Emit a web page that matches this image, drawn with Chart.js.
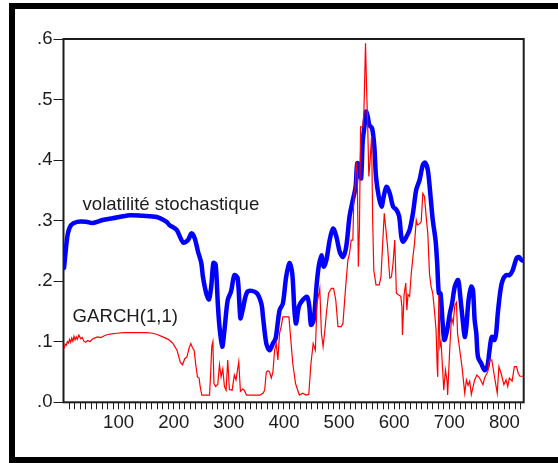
<!DOCTYPE html>
<html>
<head>
<meta charset="utf-8">
<script src="https://cdn.jsdelivr.net/npm/chart.js@4/dist/chart.umd.min.js"></script>
<style>
  body { margin: 0; background: #fff; }
</style>
</head>
<body>
<canvas id="grafico" width="558" height="463"></canvas>
<script>
const garchObs = [1, 3, 5, 7, 9, 11, 13, 15, 17, 19, 21, 23, 25, 28, 31, 34, 37, 40, 44, 48,
    52, 56, 62, 68, 74, 80, 88, 96, 110, 130, 150, 162, 170, 180, 190, 198, 206, 212, 216, 220,
    224, 228, 231, 234, 237, 240, 243, 246, 248, 251, 258, 265, 267, 269, 271, 273, 276, 280, 283, 286,
    289, 292, 295, 298, 301, 306, 310, 313, 318, 321, 325, 328, 332, 345, 356, 362, 365, 368, 371, 374,
    377, 380, 383, 386, 389, 392, 395, 398, 404, 409, 413, 416, 421, 425, 428, 434, 440, 445, 449, 453,
    457, 460, 465, 468, 471, 474, 477, 481, 486, 490, 494, 498, 504, 507, 512, 516, 519, 522, 525, 527,
    529, 531, 533, 535, 537, 539, 543, 545, 548, 550, 552, 554, 556, 559, 561, 563, 567, 573, 576, 579,
    582, 585, 588, 592, 595, 598, 601, 604, 607, 612, 614, 615, 618, 621, 623, 625, 628, 631, 634, 637,
    640, 642, 646, 649, 652, 655, 658, 661, 664, 667, 670, 673, 676, 678, 679, 681, 683, 685, 688, 690,
    693, 696, 697, 701, 704, 707, 710, 713, 715, 719, 723, 728, 731, 734, 737, 740, 743, 746, 750, 755,
    761, 764, 770, 773, 777, 781, 785, 787, 790, 794, 799, 803, 806, 809, 814, 818, 822, 825, 828, 834];
const garchVol = [0.089, 0.096, 0.094, 0.100, 0.098, 0.104, 0.099, 0.106, 0.101, 0.109, 0.103, 0.108, 0.104, 0.111, 0.105, 0.107, 0.101, 0.099, 0.102, 0.100,
    0.104, 0.106, 0.108, 0.107, 0.110, 0.112, 0.113, 0.114, 0.115, 0.115, 0.115, 0.114, 0.112, 0.108, 0.104, 0.098, 0.086, 0.066, 0.062, 0.072,
    0.075, 0.090, 0.097, 0.090, 0.086, 0.062, 0.042, 0.040, 0.026, 0.012, 0.012, 0.012, 0.048, 0.092, 0.100, 0.031, 0.026, 0.030, 0.062, 0.042,
    0.055, 0.026, 0.020, 0.070, 0.021, 0.020, 0.045, 0.037, 0.067, 0.018, 0.022, 0.020, 0.012, 0.012, 0.012, 0.015, 0.020, 0.050, 0.052, 0.050,
    0.040, 0.050, 0.086, 0.097, 0.070, 0.114, 0.125, 0.141, 0.141, 0.141, 0.097, 0.064, 0.031, 0.020, 0.012, 0.015, 0.012, 0.013, 0.064, 0.097,
    0.086, 0.163, 0.188, 0.114, 0.092, 0.117, 0.147, 0.180, 0.188, 0.188, 0.169, 0.125, 0.125, 0.130, 0.191, 0.235, 0.246, 0.268, 0.268, 0.345,
    0.350, 0.397, 0.380, 0.224, 0.290, 0.455, 0.455, 0.477, 0.593, 0.516, 0.455, 0.373, 0.395, 0.439, 0.300, 0.218, 0.194, 0.194, 0.207, 0.260,
    0.312, 0.285, 0.257, 0.205, 0.207, 0.230, 0.268, 0.180, 0.178, 0.175, 0.158, 0.111, 0.178, 0.197, 0.152, 0.178, 0.175, 0.213, 0.240, 0.263,
    0.301, 0.293, 0.295, 0.298, 0.345, 0.340, 0.307, 0.279, 0.213, 0.191, 0.180, 0.152, 0.119, 0.059, 0.042, 0.177, 0.092, 0.100, 0.053, 0.020,
    0.053, 0.035, 0.012, 0.092, 0.141, 0.130, 0.160, 0.165, 0.114, 0.086, 0.059, 0.015, 0.037, 0.028, 0.035, 0.013, 0.025, 0.037, 0.045, 0.040,
    0.029, 0.040, 0.051, 0.070, 0.070, 0.048, 0.026, 0.015, 0.059, 0.048, 0.029, 0.037, 0.026, 0.040, 0.035, 0.059, 0.059, 0.048, 0.043, 0.043];

const svObs = [1, 4, 8, 14, 25, 41, 53, 71, 89, 120, 143, 169, 187, 192, 205, 217, 226, 232, 238, 244,
    250, 253, 259, 264, 268, 272, 276, 280, 283, 288, 292, 298, 304, 310, 316, 321, 325, 334, 350, 359,
    362, 368, 374, 380, 385, 392, 398, 404, 410, 415, 419, 422, 427, 434, 442, 446, 449, 454, 459, 463,
    468, 472, 477, 483, 489, 495, 501, 507, 513, 519, 525, 530, 533, 537, 540, 543, 546, 549, 552, 555,
    560, 564, 567, 572, 577, 581, 586, 592, 598, 604, 609, 613, 616, 622, 628, 634, 640, 646, 652, 656,
    661, 666, 670, 675, 678, 681, 684, 688, 691, 696, 701, 705, 710, 716, 720, 725, 728, 731, 735, 740,
    743, 746, 749, 752, 758, 764, 769, 773, 777, 782, 785, 788, 793, 797, 803, 809, 815, 822, 826, 831, 834];
const svVol = [0.222, 0.250, 0.279, 0.293, 0.298, 0.298, 0.296, 0.301, 0.304, 0.309, 0.308, 0.306, 0.298, 0.293, 0.285, 0.264, 0.268, 0.279, 0.271, 0.249,
    0.230, 0.207, 0.180, 0.170, 0.191, 0.230, 0.228, 0.163, 0.125, 0.092, 0.119, 0.169, 0.183, 0.210, 0.205, 0.139, 0.152, 0.183, 0.181, 0.163,
    0.141, 0.097, 0.086, 0.097, 0.106, 0.152, 0.163, 0.207, 0.230, 0.213, 0.152, 0.130, 0.158, 0.169, 0.174, 0.158, 0.128, 0.136, 0.191, 0.224,
    0.243, 0.224, 0.235, 0.268, 0.287, 0.274, 0.249, 0.240, 0.257, 0.307, 0.334, 0.356, 0.395, 0.384, 0.370, 0.433, 0.455, 0.480, 0.472, 0.458,
    0.452, 0.422, 0.373, 0.340, 0.323, 0.340, 0.356, 0.345, 0.323, 0.318, 0.307, 0.273, 0.265, 0.273, 0.285, 0.312, 0.351, 0.367, 0.392, 0.396,
    0.384, 0.340, 0.301, 0.268, 0.230, 0.180, 0.180, 0.130, 0.103, 0.119, 0.147, 0.163, 0.191, 0.202, 0.174, 0.130, 0.108, 0.125, 0.169, 0.191,
    0.185, 0.136, 0.114, 0.075, 0.064, 0.053, 0.059, 0.086, 0.108, 0.103, 0.114, 0.147, 0.186, 0.202, 0.210, 0.210, 0.218, 0.238, 0.240, 0.235, 0.234];

const yTicks = [0, 0.1, 0.2, 0.3, 0.4, 0.5, 0.6];
const xTicks = [];
for (let v = 10; v <= 830; v += 10) xTicks.push(v);

const FONT = 'Liberation Sans, Arial, sans-serif';
const INK = '#1c1c1c';

function toPoints(xs, ys) {
    return xs.map((x, i) => ({ x: x, y: ys[i] }));
}

// black frame round the picture (left, top and bottom)
const cadre = {
    id: 'cadre',
    afterDraw(chart) {
        const ctx = chart.ctx;
        ctx.save();
        ctx.fillStyle = '#000';
        ctx.fillRect(9, 3, 6, 460);
        ctx.fillRect(9, 3, 549, 6);
        ctx.fillRect(9, 457, 549, 6);
        ctx.restore();
    }
};

// box round the plot area
const boite = {
    id: 'boite',
    beforeDatasetsDraw(chart) {
        const a = chart.chartArea;
        const ctx = chart.ctx;
        ctx.save();
        ctx.strokeStyle = INK;
        ctx.lineWidth = 2;
        ctx.strokeRect(a.left, a.top, a.right - a.left, a.bottom - a.top);
        ctx.restore();
    }
};

// series names written inside the plot
const etiquettes = {
    id: 'etiquettes',
    afterDatasetsDraw(chart) {
        const xs = chart.scales.x, ys = chart.scales.y;
        const ctx = chart.ctx;
        ctx.save();
        ctx.fillStyle = INK;
        ctx.font = '18.6px ' + FONT;
        ctx.textBaseline = 'alphabetic';
        ctx.fillText('volatilité stochastique', xs.getPixelForValue(34.5), ys.getPixelForValue(0.317));
        ctx.fillText('GARCH(1,1)', xs.getPixelForValue(16.5), ys.getPixelForValue(0.133));
        ctx.restore();
    }
};

new Chart(document.getElementById('grafico'), {
    type: 'line',
    data: {
        datasets: [{
            label: 'GARCH(1,1)',
            data: toPoints(garchObs, garchVol),
            borderColor: '#ff0000',
            borderWidth: 1.2,
            pointRadius: 0,
            tension: 0
        }, {
            label: 'volatilité stochastique',
            data: toPoints(svObs, svVol),
            borderColor: '#0000ff',
            borderWidth: 4.5,
            pointRadius: 0,
            tension: 0.3,
            borderJoinStyle: 'round',
            borderCapStyle: 'round'
        }]
    },
    options: {
        responsive: false,
        animation: false,
        layout: { padding: { left: 0, top: 39, right: 34.3, bottom: 0 } },
        plugins: {
            legend: { display: false },
            tooltip: { enabled: false }
        },
        scales: {
            x: {
                type: 'linear',
                min: 0,
                max: 835,
                afterBuildTicks: (scale) => { scale.ticks = xTicks.map(v => ({ value: v })); },
                afterFit: (scale) => { scale.height = 60.7; },
                border: { display: false },
                grid: { drawOnChartArea: false, drawTicks: true, tickLength: 7, color: INK, lineWidth: 1 },
                ticks: {
                    autoSkip: false,
                    maxRotation: 0,
                    padding: 2,
                    color: INK,
                    font: { family: FONT, size: 18.6 },
                    callback: (v) => (v % 100 === 0 ? String(v) : '')
                }
            },
            y: {
                min: 0,
                max: 0.6,
                afterBuildTicks: (scale) => { scale.ticks = yTicks.map(v => ({ value: v })); },
                afterFit: (scale) => { scale.width = 63.5; },
                border: { display: false },
                grid: { drawOnChartArea: false, drawTicks: true, tickLength: 10, color: INK, lineWidth: 1 },
                ticks: {
                    padding: 1,
                    color: INK,
                    font: { family: FONT, size: 18.6 },
                    callback: (v) => v.toFixed(1).replace(/^0/, '')
                }
            }
        }
    },
    plugins: [boite, etiquettes, cadre]
});
</script>
</body>
</html>
